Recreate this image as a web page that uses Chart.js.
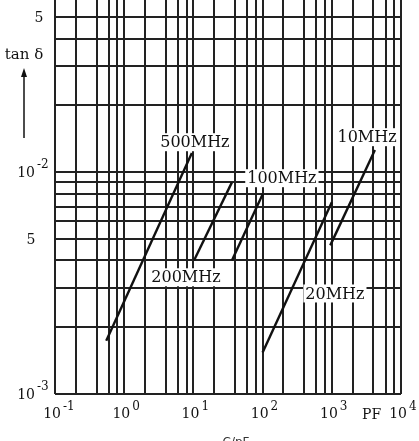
<!DOCTYPE html>
<html>
<head>
<meta charset="utf-8">
<script src="https://cdn.jsdelivr.net/npm/chart.js@4/dist/chart.umd.min.js"></script>
<style>
  html, body { margin: 0; padding: 0; background: #fff; }
  canvas { display: block; }
</style>
</head>
<body>
<canvas id="myChart" width="419" height="441"></canvas>
<script>
// tan delta vs capacitance, one straight line per frequency (log-log)
const series = ['500MHz', '200MHz', '100MHz', '20MHz', '10MHz'];
const capStart = [0.55, 10.2, 36, 100, 950];
const capEnd = [9.5, 36, 101, 1000, 4200];
const tanStart = [0.00174, 0.0040, 0.0040, 0.00154, 0.00468];
const tanEnd = [0.0122, 0.0090, 0.0080, 0.00732, 0.0126];

// where each frequency name sits (data coords)
const labelCap = [10.5, 7.8, 190, 1110, 3230];
const labelTan = [0.01366, 0.00336, 0.0094, 0.00284, 0.01439];

// grid / tick values
const xGrid = [0.1, 0.2, 0.4, 0.6, 0.8, 1, 2, 4, 6, 8, 10, 20, 40, 60, 80,
               100, 200, 400, 600, 800, 1000, 2000, 4000, 6000, 8000, 10000];
const yGrid = [0.001, 0.002, 0.003, 0.004, 0.005, 0.006, 0.007, 0.008, 0.009,
               0.01, 0.02, 0.03, 0.04, 0.05];
const xDecades = [0.1, 1, 10, 100, 1000, 10000];
const xExps = ['-1', '0', '1', '2', '3', '4'];
const yTickVals = [0.001, 0.005, 0.01, 0.05];
const yTickBase = ['10', '5', '10', '5'];
const yTickExps = ['-3', '', '-2', ''];

const serif = '"DejaVu Serif", "Liberation Serif", serif';

const datasets = series.map((name, i) => ({
  label: name,
  data: [{x: capStart[i], y: tanStart[i]}, {x: capEnd[i], y: tanEnd[i]}],
  borderColor: '#111',
  borderWidth: 2.4,
  pointRadius: 0,
  fill: false
}));

const textPlugin = {
  id: 'textPlugin',
  afterDatasetsDraw(chart) {
    const ctx = chart.ctx;
    const x = chart.scales.x, y = chart.scales.y;
    ctx.save();

    // frequency names on white boxes
    ctx.font = '16px ' + serif;
    ctx.textAlign = 'center';
    ctx.textBaseline = 'middle';
    series.forEach((name, i) => {
      const px = x.getPixelForValue(labelCap[i]);
      const py = y.getPixelForValue(labelTan[i]);
      const w = ctx.measureText(name).width;
      ctx.fillStyle = '#fff';
      ctx.fillRect(px - w / 2 - 2, py - 9, w + 4, 18);
      ctx.fillStyle = '#111';
      ctx.fillText(name, px, py + 1);
    });

    // x tick labels 10^n
    ctx.textBaseline = 'alphabetic';
    xDecades.forEach((d, i) => {
      const px = x.getPixelForValue(d);
      ctx.font = '14px ' + serif;
      ctx.textAlign = 'right';
      ctx.fillText('10', px + 6, 418);
      ctx.font = '12px ' + serif;
      ctx.textAlign = 'left';
      ctx.fillText(xExps[i], px + 8, 410);
    });
    ctx.font = '14px ' + serif;
    ctx.textAlign = 'left';
    ctx.fillText('PF', 362, 419);

    // y tick labels
    yTickVals.forEach((v, i) => {
      const py = y.getPixelForValue(v);
      ctx.font = '14px ' + serif;
      if (yTickExps[i]) {
        ctx.textAlign = 'right';
        ctx.fillText(yTickBase[i], 35, py + 5);
        ctx.font = '12px ' + serif;
        ctx.textAlign = 'left';
        ctx.fillText(yTickExps[i], 37, py - 4);
      } else {
        ctx.textAlign = 'center';
        ctx.fillText(yTickBase[i], py < 100 ? 39 : 31, py + 5);
      }
    });

    // axis name and arrow
    ctx.font = '15px ' + serif;
    ctx.textAlign = 'center';
    ctx.fillText('tan \u03b4', 24, 59);
    ctx.strokeStyle = '#111';
    ctx.lineWidth = 1.5;
    ctx.beginPath();
    ctx.moveTo(24, 138);
    ctx.lineTo(24, 72);
    ctx.stroke();
    ctx.beginPath();
    ctx.moveTo(24, 68);
    ctx.lineTo(21, 77);
    ctx.lineTo(27, 77);
    ctx.closePath();
    ctx.fill();

    // cut-off caption at the bottom
    ctx.font = '12px "DejaVu Sans", sans-serif';
    ctx.fillStyle = '#333';
    ctx.textBaseline = 'top';
    ctx.fillText('C/pF', 236, 437);
    ctx.restore();
  }
};

const ctx = document.getElementById('myChart').getContext('2d');
const chart = new Chart(ctx, {
  type: 'line',
  data: { datasets: datasets },
  options: {
    responsive: false,
    animation: false,
    devicePixelRatio: 1,
    layout: { padding: { left: 55, right: 18, top: 0, bottom: 47 } },
    plugins: { legend: { display: false }, tooltip: { enabled: false } },
    scales: {
      x: {
        type: 'logarithmic',
        min: 0.1,
        max: 10000,
        afterBuildTicks: s => { s.ticks = xGrid.map(v => ({value: v})); },
        afterFit: s => { s.height = 0; },
        ticks: { display: false },
        border: { display: false },
        grid: { color: '#222', lineWidth: 2, drawTicks: false }
      },
      y: {
        type: 'logarithmic',
        min: 0.001,
        max: 0.0598,
        afterBuildTicks: s => { s.ticks = yGrid.map(v => ({value: v})); },
        afterFit: s => { s.width = 0; },
        ticks: { display: false },
        border: { display: false },
        grid: { color: '#222', lineWidth: 2, drawTicks: false }
      }
    }
  },
  plugins: [textPlugin]
});
</script>
</body>
</html>
